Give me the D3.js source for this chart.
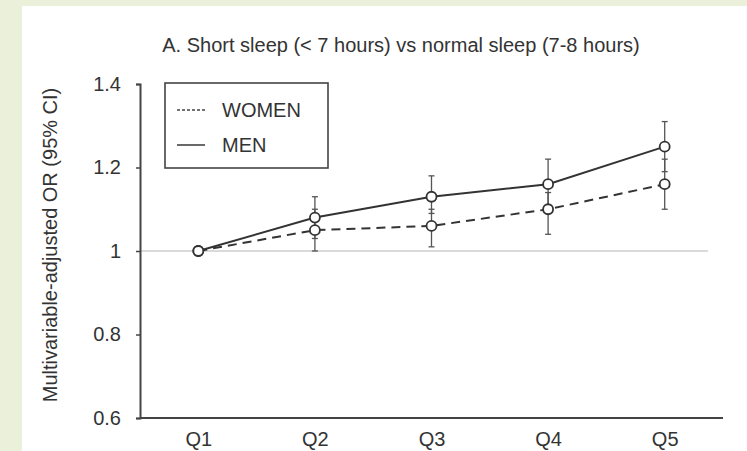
<!DOCTYPE html>
<html>
<head>
<meta charset="utf-8">
<script src="https://cdn.jsdelivr.net/npm/d3@7"></script>
<style>
  body { margin: 0; background: #eaf0d9; }
  svg { display: block; }
  text { font-family: "Liberation Sans", Arial, sans-serif; fill: #333; }
</style>
</head>
<body>
<svg id="chart" width="747" height="451"></svg>
<script>
// quintiles
var quintiles = ["Q1", "Q2", "Q3", "Q4", "Q5"];

// odds ratios
var menOR   = [1.00, 1.08, 1.13, 1.16, 1.25];
var menLow  = [1.00, 1.03, 1.09, 1.11, 1.19];
var menHigh = [1.00, 1.13, 1.18, 1.22, 1.31];

var womenOR   = [1.00, 1.05, 1.06, 1.10, 1.16];
var womenLow  = [1.00, 1.00, 1.01, 1.04, 1.10];
var womenHigh = [1.00, 1.10, 1.10, 1.14, 1.22];

var yTicks = [0.6, 0.8, 1, 1.2, 1.4];

var fontSize = 20;

var svg = d3.select("#chart");

// white panel on the green page
svg.append("rect")
    .attr("x", 22).attr("y", 6)
    .attr("width", 747 - 22).attr("height", 451 - 6)
    .attr("fill", "#fff");

var x = d3.scalePoint().domain(quintiles).range([140, 723]).padding(0.5);
var y = d3.scaleLinear().domain([0.6, 1.4]).range([418, 84]);

// reference line at OR = 1
svg.append("line")
    .attr("x1", 140).attr("x2", 708)
    .attr("y1", y(1)).attr("y2", y(1))
    .attr("stroke", "#b5b5b5").attr("stroke-width", 1.2);

// y axis
var yAxis = svg.append("g")
    .attr("transform", "translate(140,0)")
    .call(d3.axisLeft(y).tickValues(yTicks).tickSize(4).tickPadding(15)
        .tickFormat(function(d){ return d == 1 ? "1" : d3.format(".1f")(d); }));
yAxis.select(".domain").attr("stroke", "#444").attr("stroke-width", 2);
yAxis.selectAll(".tick line").attr("stroke", "#444").attr("stroke-width", 1.5);
yAxis.selectAll(".tick text").attr("font-size", fontSize).attr("fill", "#3a3a3a")
    .attr("font-family", "Liberation Sans, Arial, sans-serif");

// x axis
var xAxis = svg.append("g")
    .attr("transform", "translate(0,418)")
    .call(d3.axisBottom(x).tickSize(0).tickPadding(14));
xAxis.select(".domain").attr("stroke", "#444").attr("stroke-width", 2)
    .attr("d", "M140,0H723");
xAxis.selectAll(".tick text").attr("font-size", fontSize).attr("fill", "#3a3a3a")
    .attr("font-family", "Liberation Sans, Arial, sans-serif");

// title and axis label
svg.append("text")
    .attr("x", 401).attr("y", 52)
    .attr("text-anchor", "middle").attr("font-size", fontSize)
    .text("A. Short sleep (< 7 hours) vs normal sleep (7-8 hours)");

svg.append("text")
    .attr("transform", "translate(57,245) rotate(-90)")
    .attr("text-anchor", "middle").attr("font-size", fontSize)
    .text("Multivariable-adjusted  OR (95% CI)");

var series = [
    {name: "WOMEN", or: womenOR, low: womenLow, high: womenHigh, dash: "9,6"},
    {name: "MEN",   or: menOR,   low: menLow,   high: menHigh,   dash: null}
];

var line = d3.line()
    .x(function(d){ return x(d.q); })
    .y(function(d){ return y(d.v); });

series.forEach(function(s) {
    var pts = quintiles.map(function(q, i) {
        return {q: q, v: s.or[i], lo: s.low[i], hi: s.high[i]};
    });
    var g = svg.append("g");

    // error bars
    var eb = g.selectAll(".err").data(pts.slice(1)).enter().append("g");
    eb.append("line")
        .attr("x1", function(d){ return x(d.q); }).attr("x2", function(d){ return x(d.q); })
        .attr("y1", function(d){ return y(d.lo); }).attr("y2", function(d){ return y(d.hi); })
        .attr("stroke", "#555").attr("stroke-width", 1.3);
    eb.append("line")
        .attr("x1", function(d){ return x(d.q) - 3; }).attr("x2", function(d){ return x(d.q) + 3; })
        .attr("y1", function(d){ return y(d.hi); }).attr("y2", function(d){ return y(d.hi); })
        .attr("stroke", "#555").attr("stroke-width", 1.3);
    eb.append("line")
        .attr("x1", function(d){ return x(d.q) - 3; }).attr("x2", function(d){ return x(d.q) + 3; })
        .attr("y1", function(d){ return y(d.lo); }).attr("y2", function(d){ return y(d.lo); })
        .attr("stroke", "#555").attr("stroke-width", 1.3);

    g.append("path")
        .attr("d", line(pts))
        .attr("fill", "none")
        .attr("stroke", "#333").attr("stroke-width", 2)
        .attr("stroke-dasharray", s.dash);

    s.pts = pts;
});

// markers on top
series.forEach(function(s) {
    svg.append("g").selectAll("circle").data(s.pts).enter().append("circle")
        .attr("cx", function(d){ return x(d.q); })
        .attr("cy", function(d){ return y(d.v); })
        .attr("r", 5)
        .attr("fill", "#fff").attr("stroke", "#333").attr("stroke-width", 1.8);
});

// legend
var legend = svg.append("g");
legend.append("rect")
    .attr("x", 165).attr("y", 83).attr("width", 163).attr("height", 85)
    .attr("fill", "#fff").attr("stroke", "#444").attr("stroke-width", 1.6);

var leg = legend.selectAll(".item").data(series).enter().append("g")
    .attr("transform", function(d, i){ return "translate(0," + (110 + i * 35) + ")"; });
leg.append("line")
    .attr("x1", 177).attr("x2", 205).attr("y1", 0).attr("y2", 0)
    .attr("stroke", "#444").attr("stroke-width", 1.6)
    .attr("stroke-dasharray", function(d){ return d.dash ? "3,2" : null; });
leg.append("text")
    .attr("x", 222).attr("y", 7).attr("font-size", fontSize)
    .text(function(d){ return d.name; });
</script>
</body>
</html>
